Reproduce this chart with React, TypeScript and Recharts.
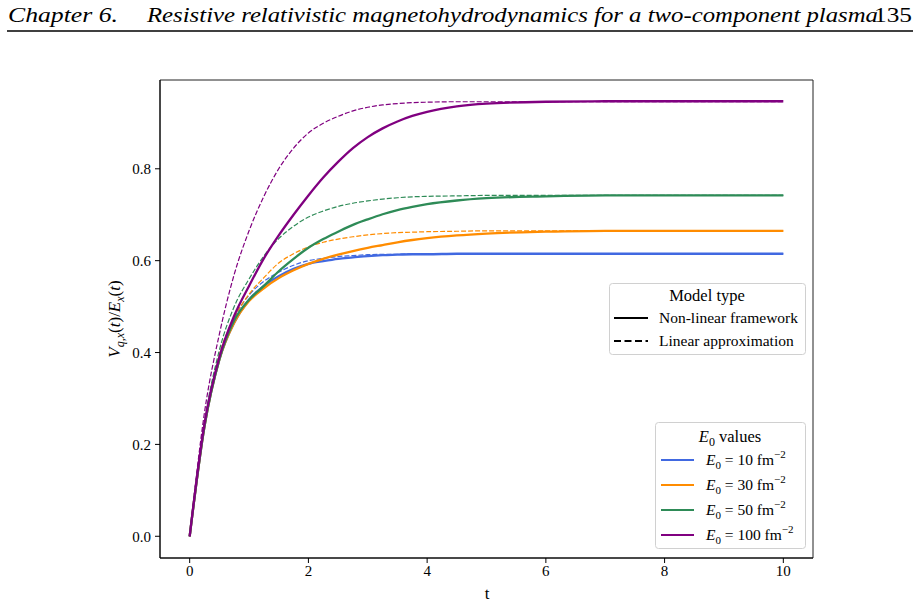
import React from 'react';
import { LineChart, Line, XAxis, YAxis, ReferenceArea } from 'recharts';

const tValues = [0, 0.25, 0.5, 0.75, 1, 1.25, 1.5, 1.75, 2, 2.25, 2.5, 2.75, 3, 3.25, 3.5, 3.75, 4, 4.5, 5, 6, 7, 8, 9, 10];

const blueSolid = [0, 0.24, 0.385, 0.465, 0.515, 0.545, 0.566, 0.582, 0.593, 0.599, 0.604, 0.607, 0.61, 0.612, 0.613, 0.614, 0.614, 0.615, 0.615, 0.615, 0.615, 0.615, 0.615, 0.615];
const blueDashed = [0, 0.245, 0.39, 0.475, 0.525, 0.555, 0.575, 0.59, 0.6, 0.605, 0.609, 0.611, 0.613, 0.614, 0.614, 0.615, 0.615, 0.615, 0.615, 0.615, 0.615, 0.615, 0.615, 0.615];
const orangeSolid = [0, 0.24, 0.385, 0.465, 0.512, 0.54, 0.562, 0.579, 0.593, 0.604, 0.613, 0.621, 0.628, 0.634, 0.64, 0.645, 0.649, 0.655, 0.659, 0.663, 0.665, 0.665, 0.665, 0.665];
const orangeDashed = [0, 0.245, 0.395, 0.475, 0.527, 0.563, 0.595, 0.615, 0.63, 0.64, 0.647, 0.652, 0.656, 0.659, 0.661, 0.662, 0.663, 0.664, 0.665, 0.665, 0.665, 0.665, 0.665, 0.665];
const greenSolid = [0, 0.24, 0.385, 0.47, 0.515, 0.545, 0.577, 0.604, 0.628, 0.647, 0.663, 0.678, 0.69, 0.701, 0.71, 0.717, 0.723, 0.731, 0.736, 0.74, 0.742, 0.742, 0.742, 0.742];
const greenDashed = [0, 0.25, 0.405, 0.5, 0.56, 0.61, 0.648, 0.675, 0.695, 0.708, 0.718, 0.725, 0.73, 0.734, 0.737, 0.739, 0.74, 0.741, 0.742, 0.742, 0.742, 0.742, 0.742, 0.742];
const purpleSolid = [0, 0.245, 0.39, 0.48, 0.545, 0.605, 0.655, 0.7, 0.742, 0.781, 0.815, 0.845, 0.869, 0.888, 0.903, 0.915, 0.924, 0.936, 0.942, 0.946, 0.947, 0.947, 0.947, 0.947];
const purpleDashed = [0, 0.27, 0.44, 0.57, 0.665, 0.74, 0.8, 0.845, 0.878, 0.899, 0.914, 0.926, 0.934, 0.939, 0.942, 0.944, 0.945, 0.946, 0.946, 0.946, 0.946, 0.946, 0.946, 0.946];

const xTicks = [0, 2, 4, 6, 8, 10];
const yTicks = [0, 0.2, 0.4, 0.6, 0.8];
const e0Labels = ['10', '30', '50', '100'];
const colors = ['#4169E1', '#FF8C00', '#2E8B57', '#800080'];

const data = tValues.map((t, i) => ({
  t,
  blueSolid: blueSolid[i],
  blueDashed: blueDashed[i],
  orangeSolid: orangeSolid[i],
  orangeDashed: orangeDashed[i],
  greenSolid: greenSolid[i],
  greenDashed: greenDashed[i],
  purpleSolid: purpleSolid[i],
  purpleDashed: purpleDashed[i],
}));

const series = [
  { solid: 'blueSolid', dashed: 'blueDashed', color: colors[0] },
  { solid: 'orangeSolid', dashed: 'orangeDashed', color: colors[1] },
  { solid: 'greenSolid', dashed: 'greenDashed', color: colors[2] },
  { solid: 'purpleSolid', dashed: 'purpleDashed', color: colors[3] },
];

const serif = '"Liberation Serif", "DejaVu Serif", serif';
const tickStyle = { fontFamily: serif, fontSize: 15, fill: '#000' };

function Overlay() {
  return (
    <svg width={920} height={606} style={{ position: 'absolute', left: 0, top: 0, pointerEvents: 'none' }}>
      {/* page header */}
      <text x={8} y={22} fontFamily={serif} fontStyle="italic" fontSize={22} textLength={110} lengthAdjust="spacingAndGlyphs">
        Chapter 6.
      </text>
      <text x={147} y={22} fontFamily={serif} fontStyle="italic" fontSize={22} textLength={731} lengthAdjust="spacingAndGlyphs">
        Resistive relativistic magnetohydrodynamics for a two-component plasma
      </text>
      <text x={874} y={22} fontFamily={serif} fontSize={22} textLength={38} lengthAdjust="spacingAndGlyphs">135</text>
      <line x1={7} x2={913} y1={31} y2={31} stroke="#000" strokeWidth={1.3} />

      {/* axis labels */}
      <text x={487} y={599} textAnchor="middle" fontFamily={serif} fontSize={17}>t</text>
      <text transform="translate(120,319) rotate(-90)" textAnchor="middle" fontFamily={serif} fontSize={17}>
        <tspan fontStyle="italic">V</tspan>
        <tspan fontSize={12} dy={4} fontStyle="italic">q,x</tspan>
        <tspan dy={-4}>(</tspan>
        <tspan fontStyle="italic">t</tspan>
        <tspan>)/</tspan>
        <tspan fontStyle="italic">E</tspan>
        <tspan fontSize={12} dy={4} fontStyle="italic">x</tspan>
        <tspan dy={-4}>(</tspan>
        <tspan fontStyle="italic">t</tspan>
        <tspan>)</tspan>
      </text>

      {/* model type legend */}
      <rect x={609.5} y={283.5} width={196} height={71} rx={3} fill="rgba(255,255,255,0.8)" stroke="#d0d0d0" />
      <text x={707} y={301} textAnchor="middle" fontFamily={serif} fontSize={16.5}>Model type</text>
      <line x1={614} x2={648} y1={318} y2={318} stroke="#000" strokeWidth={2.2} />
      <text x={659} y={323} fontFamily={serif} fontSize={15.5}>Non-linear framework</text>
      <line x1={614} x2={648} y1={341} y2={341} stroke="#000" strokeWidth={2.2} strokeDasharray="7 3.5" />
      <text x={659} y={346} fontFamily={serif} fontSize={15.5}>Linear approximation</text>

      {/* E0 legend */}
      <rect x={655.5} y={422.5} width={150} height={126} rx={3} fill="rgba(255,255,255,0.8)" stroke="#d0d0d0" />
      <text x={730} y={442} textAnchor="middle" fontFamily={serif} fontSize={16.5}>
        <tspan fontStyle="italic">E</tspan>
        <tspan fontSize={12} dy={4}>0</tspan>
        <tspan dy={-4}> values</tspan>
      </text>
      {e0Labels.map((lab, i) => {
        const y = 460 + i * 25;
        return (
          <g key={lab}>
            <line x1={661} x2={694} y1={y} y2={y} stroke={colors[i]} strokeWidth={2.2} />
            <text x={706} y={y + 5} fontFamily={serif} fontSize={15.5}>
              <tspan fontStyle="italic">E</tspan>
              <tspan fontSize={11} dy={4}>0</tspan>
              <tspan dy={-4}> = {lab} fm</tspan>
              <tspan fontSize={11} dy={-7}>−2</tspan>
            </text>
          </g>
        );
      })}
    </svg>
  );
}

export default function App() {
  return (
    <div style={{ position: 'absolute', left: 0, top: 0, width: 920, height: 606, background: '#fff' }}>
      <LineChart width={920} height={606} data={data} margin={{ top: 80, right: 107, bottom: 18, left: 100 }}>
        <XAxis
          type="number"
          dataKey="t"
          domain={[-0.5, 10.5]}
          allowDataOverflow
          ticks={xTicks}
          height={30}
          tick={tickStyle}
          tickSize={5}
          tickMargin={2}
          stroke="#000"
        />
        <YAxis
          type="number"
          domain={[-0.0473, 0.9933]}
          allowDataOverflow
          ticks={yTicks}
          width={60}
          tick={tickStyle}
          tickSize={5}
          tickMargin={4}
          tickFormatter={(v: number) => v.toFixed(1)}
          stroke="#000"
        />
        <ReferenceArea x1={-0.5} x2={10.5} y1={-0.0473} y2={0.9933} fill="none" stroke="#222" strokeWidth={1} ifOverflow="visible" />
        {series.map((s) => [
          <Line
            key={s.solid}
            type="monotone"
            dataKey={s.solid}
            stroke={s.color}
            strokeWidth={2.3}
            dot={false}
            activeDot={false}
            isAnimationActive={false}
          />,
          <Line
            key={s.dashed}
            type="monotone"
            dataKey={s.dashed}
            stroke={s.color}
            strokeWidth={1.2}
            strokeDasharray="5 2"
            dot={false}
            activeDot={false}
            isAnimationActive={false}
          />,
        ])}
      </LineChart>
      <Overlay />
    </div>
  );
}
